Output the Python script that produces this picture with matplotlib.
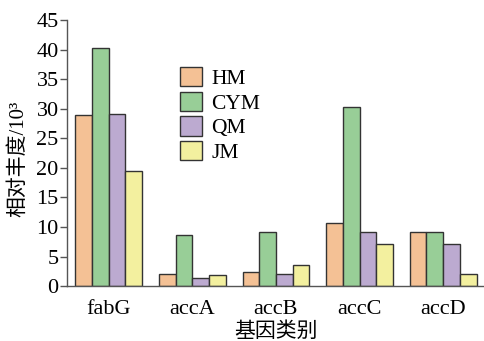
import numpy as np
import matplotlib
matplotlib.use("Agg")
import matplotlib.pyplot as plt

plt.rcParams["font.family"] = ["Liberation Serif", "Noto Sans CJK SC"]

genes = ["fabG", "accA", "accB", "accC", "accD"]
groups = ["HM", "CYM", "QM", "JM"]
hm = [28.9, 2.1, 2.4, 10.7, 9.2]
cym = [40.2, 8.6, 9.1, 30.3, 9.2]
qm = [29.1, 1.4, 2.0, 9.1, 7.2]
jm = [19.5, 1.9, 3.5, 7.2, 2.0]
colors = ["#F4C195", "#98CE97", "#BCAAD0", "#F3F09F"]

fig = plt.figure(figsize=(4.85, 3.41), dpi=100)
ax = fig.add_axes([0.138, 0.161, 0.862, 0.78])

x = np.arange(len(genes))
w = 0.2
for i, (vals, lab, c) in enumerate(zip([hm, cym, qm, jm], groups, colors)):
    ax.bar(x - 0.3 + i * w, vals, width=w, color=c, edgecolor="#333333",
           linewidth=1.0, label=lab)

ax.set_xlim(-0.5, 4.5)
ax.set_ylim(0, 45)
ax.set_yticks(range(0, 46, 5))
ax.set_xticks(x)
ax.set_xticklabels(genes)
ax.tick_params(axis="y", direction="out", length=5, width=1, labelsize=16,
               color="#555555", pad=1)
ax.tick_params(axis="x", length=0, labelsize=16, pad=10)
for s in ["top", "right"]:
    ax.spines[s].set_visible(False)
for s in ["left", "bottom"]:
    ax.spines[s].set_color("#555555")
    ax.spines[s].set_linewidth(1.0)

ax.set_ylabel("相对丰度/10³", fontsize=15)
ax.yaxis.set_label_coords(-0.093, 0.48)
ax.set_xlabel("基因类别", fontsize=15, labelpad=2)

ax.legend(loc="upper left", bbox_to_anchor=(0.25, 0.857), frameon=False,
          fontsize=15.5, handlelength=1.0, handleheight=1.0, labelspacing=0.13,
          handletextpad=0.45, borderaxespad=0)

fig.savefig("out.png", dpi=100)
